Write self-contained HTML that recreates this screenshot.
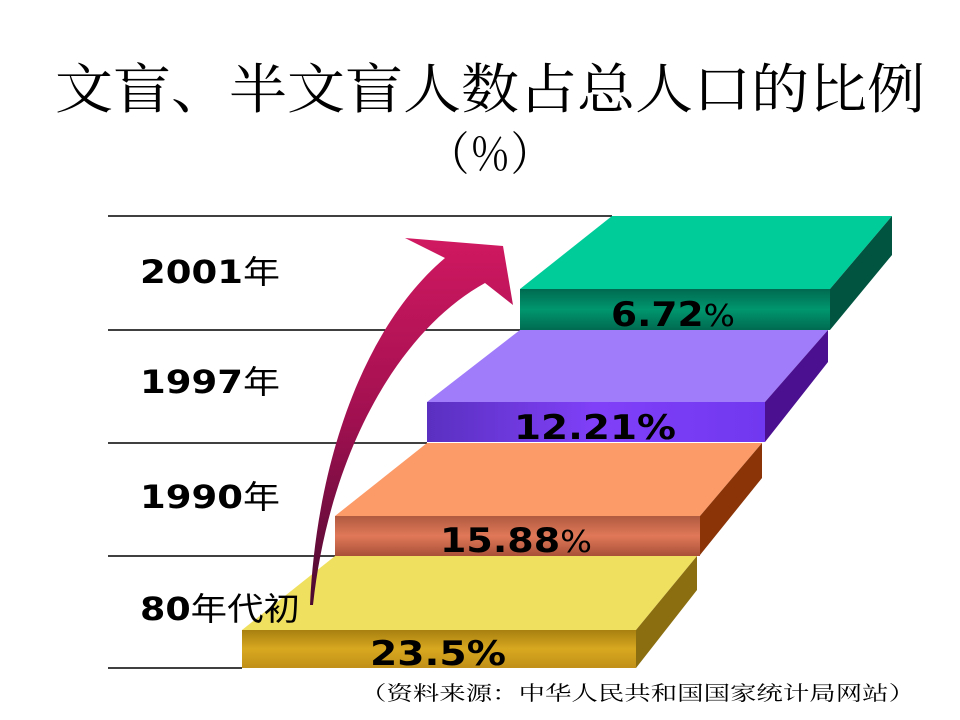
<!DOCTYPE html>
<html><head><meta charset="utf-8"><style>
html,body{margin:0;padding:0;background:#fff;}
svg{display:block;}
text{font-family:"DejaVu Sans","Noto Sans CJK SC",sans-serif;}
</style></head><body>
<svg width="960" height="720" viewBox="0 0 960 720" xmlns="http://www.w3.org/2000/svg">
<defs>
<linearGradient id="arr" x1="0" y1="1" x2="0" y2="0">
<stop offset="0" stop-color="#4a0a30"/><stop offset="0.5" stop-color="#a01050"/><stop offset="1" stop-color="#d01860"/></linearGradient>
<linearGradient id="gf" x1="0" y1="0" x2="0" y2="1"><stop offset="0" stop-color="#006a50"/><stop offset="0.5" stop-color="#00966e"/><stop offset="1" stop-color="#006a50"/></linearGradient>
<linearGradient id="pf" x1="0" y1="0" x2="1" y2="0"><stop offset="0" stop-color="#5a30c0"/><stop offset="0.5" stop-color="#8040f8"/><stop offset="1" stop-color="#7038f0"/></linearGradient>
<linearGradient id="of" x1="0" y1="0" x2="0" y2="1"><stop offset="0" stop-color="#b05a40"/><stop offset="0.5" stop-color="#e07858"/><stop offset="1" stop-color="#a85038"/></linearGradient>
<linearGradient id="yf" x1="0" y1="0" x2="0" y2="1"><stop offset="0" stop-color="#a88010"/><stop offset="0.5" stop-color="#d8a820"/><stop offset="1" stop-color="#c09018"/></linearGradient>
</defs>
<text x="55" y="108" font-size="54" textLength="870" lengthAdjust="spacingAndGlyphs" style="font-family:'Liberation Serif','Noto Serif CJK SC',serif">文盲、半文盲人数占总人口的比例</text>
<text x="428" y="170" font-size="46" textLength="124" lengthAdjust="spacingAndGlyphs" style="font-family:'Liberation Serif','Noto Serif CJK SC',serif">（％）</text>
<g stroke="#000" stroke-width="1.5">
<line x1="108" y1="216" x2="612" y2="216"/>
<line x1="108" y1="330" x2="520" y2="330"/>
<line x1="108" y1="443" x2="427" y2="443"/>
<line x1="108" y1="556" x2="335" y2="556"/>
<line x1="108" y1="668" x2="242" y2="668"/>
</g>
<!-- yellow -->
<polygon points="242,630 335,556 697,556 636,630" fill="#f0e060"/>
<polygon points="636,630 697,556 697,590 636,668" fill="#8a6e10"/>
<rect x="242" y="630" width="394" height="38" fill="url(#yf)"/>
<!-- orange -->
<polygon points="335,516 427,443 762,443 700,516" fill="#fc9a68"/>
<polygon points="700,516 762,443 762,478 700,555" fill="#8a3408"/>
<rect x="335" y="516" width="365" height="40" fill="url(#of)"/>
<!-- purple -->
<polygon points="427,402 520,330 828,330 765,402" fill="#a07cfa"/>
<polygon points="765,402 828,330 828,362 765,442" fill="#4a1090"/>
<rect x="427" y="402" width="338" height="40" fill="url(#pf)"/>
<!-- green -->
<polygon points="520,289 612,216 892,216 830,289" fill="#00cc9a"/>
<polygon points="830,289 892,216 892,255 830,330" fill="#005440"/>
<rect x="520" y="289" width="310" height="41" fill="url(#gf)"/>
<g font-size="32" font-weight="bold" fill="#000">
<text x="140" y="283" textLength="140" lengthAdjust="spacingAndGlyphs">2001<tspan font-weight="normal">年</tspan></text>
<text x="140" y="393" textLength="140" lengthAdjust="spacingAndGlyphs">1997<tspan font-weight="normal">年</tspan></text>
<text x="140" y="508" textLength="140" lengthAdjust="spacingAndGlyphs">1990<tspan font-weight="normal">年</tspan></text>
<text x="140" y="620" textLength="160" lengthAdjust="spacingAndGlyphs">80<tspan font-weight="normal">年代初</tspan></text>
</g>
<!-- arrow -->
<path d="M310,605 C316,470 360,330 445,258 L405,238 L503,246 L513,305 L485,283 C400,330 330,450 313,605 Z" fill="url(#arr)"/>
<g font-size="34" font-weight="bold" fill="#000">
<text x="611" y="326" textLength="124" lengthAdjust="spacingAndGlyphs">6.72<tspan font-weight="normal" font-size="30">%</tspan></text>
<text x="514" y="439" textLength="162" lengthAdjust="spacingAndGlyphs">12.21%</text>
<text x="440" y="552" textLength="152" lengthAdjust="spacingAndGlyphs">15.88<tspan font-weight="normal" font-size="30">%</tspan></text>
<text x="370" y="665" textLength="136" lengthAdjust="spacingAndGlyphs">23.5%</text>
</g>
<text x="360" y="700" font-size="20" fill="#000" textLength="555" lengthAdjust="spacingAndGlyphs" style="font-family:'Liberation Serif','Noto Serif CJK SC',serif">（资料来源：中华人民共和国国家统计局网站）</text>
</svg>
</body></html>
